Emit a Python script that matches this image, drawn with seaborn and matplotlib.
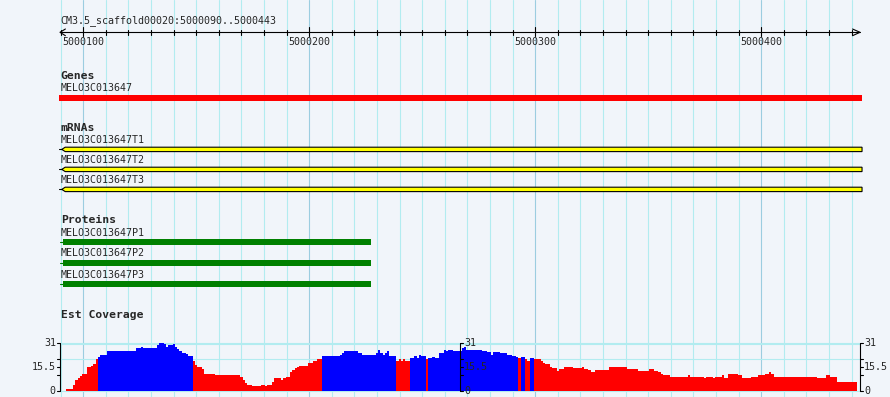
import numpy as np
import pandas as pd
import matplotlib
matplotlib.use("Agg")
import matplotlib.pyplot as plt
from matplotlib.patches import Polygon
import seaborn as sns

# Region shown
ref_name = "CM3.5_scaffold00020"
view_start, view_end = 5000090, 5000443

# Features (bp)
gene_names = ["MELO3C013647"]
gene_span = (5000089.3, 5000444.6)
mrna_names = ["MELO3C013647T1", "MELO3C013647T2", "MELO3C013647T3"]
mrna_span = (5000089.3, 5000444.6)
protein_names = ["MELO3C013647P1", "MELO3C013647P2", "MELO3C013647P3"]
protein_span = (5000091, 5000227.5)

# Est coverage as steps: first base of each step (offset from view_start) and depth
cov_offsets = [3, 6, 7, 8, 9, 10, 12, 14, 15, 16,
               17, 18, 21, 34, 36, 37, 43, 44, 46, 47, 48, 50, 51, 52, 53, 54, 56, 57,
               59, 60, 61, 63, 64, 69, 80, 81, 82, 83, 85, 89, 91, 92, 94, 95, 98, 99,
               100, 102, 103, 104, 105, 106, 110, 112, 114,
               116, 124, 125, 126, 132, 134, 140, 141, 142, 143, 144, 145, 146,
               149, 150, 151, 152, 153,
               155, 157, 158, 159, 160,
               162,
               163, 165, 166, 168, 170, 171, 172, 174, 178, 179, 180, 187, 189, 191,
               192, 195, 198, 200, 202,
               203, 204, 206, 207, 208,
               210, 213, 214, 215, 217, 218, 220, 221, 223, 227, 231, 232, 234, 235,
               237, 243, 251, 256, 261, 263, 265, 266, 267, 270, 278, 279, 285, 286,
               289, 290, 293, 294, 296, 300, 302, 306, 309, 312, 314, 315, 316, 335,
               339, 341, 344]
cov_depth = [1.3, 3.7, 6.9, 8.4, 9.3, 10.5, 15.3, 15.9, 17.2, 20.4,
             22.0, 23.0, 25.6, 27.3, 28.0, 27.3, 29.5, 31.0, 29.9, 28.4, 29.5, 29.9,
             28.4, 26.9, 25.6, 24.3, 23.7, 22.4,
             19.2, 16.6, 15.3, 14.0, 10.8, 10.1, 8.6, 6.9, 4.7, 3.9, 3.2, 3.9, 3.2,
             3.9, 5.6, 8.4, 7.1, 8.4, 9.0, 12.3, 13.6, 14.6, 15.5, 15.9, 17.9, 19.2, 20.4,
             22.4, 23.0, 24.3, 25.6, 24.3, 23.0, 24.3, 26.3, 24.3, 23.0, 24.3, 25.6, 22.4,
             19.2, 20.4, 19.2, 20.4, 19.2,
             21.1, 22.4, 21.1, 23.0, 22.4,
             20.4,
             21.1, 21.7, 21.1, 24.3, 26.3, 25.6, 26.3, 25.6, 27.3, 28.2, 26.0, 25.6,
             24.8, 23.0, 24.8, 24.1, 23.0, 22.6, 22.0,
             20.9, 21.7, 20.4, 19.2, 21.1,
             20.4, 19.2, 17.9, 17.2, 15.5, 14.4, 12.7, 14.0, 15.3, 14.6, 15.3, 14.0,
             13.3, 12.1, 13.3, 15.3, 14.0, 12.7, 14.0, 12.7, 12.1, 10.8, 10.1, 8.8,
             10.1, 8.8, 8.2, 8.8, 8.2, 8.8, 10.1, 8.2, 10.8, 10.1, 8.2, 8.8, 10.1,
             10.8, 12.1, 10.8, 8.8, 8.2, 10.1, 8.8, 5.6]
cov_end_offset = 353
# stretches drawn in blue (offsets, end exclusive)
blue_spans = [(17, 59), (116, 149), (155, 162), (163, 203), (204, 206), (208, 210)]
cov_max = 31

# expand steps to one value per base
seg_ends = cov_offsets[1:] + [cov_end_offset]
rows = []
for s, e, d in zip(cov_offsets, seg_ends, cov_depth):
    for off in range(s, e):
        blue = any(a <= off < b for a, b in blue_spans)
        rows.append({"pos": view_start + off, "depth": d, "kind": "blue" if blue else "red"})
cov = pd.DataFrame(rows)

# Layout (pixels)
W, H = 890, 397
panel_x0, panel_x1 = 60, 860
ppb = (panel_x1 - panel_x0) / (view_end - view_start + 1)
bp0 = view_start - 0.3
xlim = (bp0 - panel_x0 / ppb, bp0 + (W - panel_x0) / ppb)
bg = "#f1f5fa"
mono = "DejaVu Sans Mono"
fs = 7.2
fs_bold = 8.2

sns.set_style("white")
plt.rcParams["font.family"] = [mono, "DejaVu Sans"]

fig = plt.figure(figsize=(W / 100, H / 100), dpi=100, facecolor=bg)
ax = fig.add_axes([0, 0, 1, 1])
ax.set_xlim(*xlim)
ax.set_ylim(H, 0)
ax.set_facecolor(bg)
ax.axis("off")

# vertical grid every 10 bp
for p in range(view_start, view_end + 1, 10):
    col = "#9ccde0" if p % 100 == 0 else "#b2ecf0"
    ax.axvline(p, color=col, lw=0.8, zorder=0)
# horizontal grid of the coverage track
for yrow in [342.7, 344.4, 359.4, 391.2]:
    ax.plot([view_start - 0.3, view_end + 0.7], [yrow, yrow], color="#b2ecf0", lw=0.8, zorder=0)

# ruler
ax.text(bp0 + 0.3, 21, f"{ref_name}:{view_start}..{view_end}", fontsize=fs,
        va="center", ha="left", family=mono)
r_end = view_end + 0.7
ax.plot([bp0, r_end], [32.3, 32.3], color="black", lw=0.8)
ax.plot([bp0 + 2.4, bp0, bp0 + 2.4], [29, 32.3, 35.7], color="black", lw=0.8)
ax.plot([r_end - 3.3, r_end, r_end - 3.3], [29, 32.3, 35.7], color="black", lw=0.8)
for p in range(view_start, view_end + 1, 10):
    if p % 100 == 0:
        ax.plot([p, p], [27, 36], color="black", lw=0.8)
        ax.text(p, 42.3, str(p), fontsize=fs, ha="center", va="center", family=mono)
    else:
        ax.plot([p, p], [29.5, 35], color="black", lw=0.8)

# Genes
ax.text(bp0 + 0.3, 76, "Genes", fontsize=fs_bold, weight="bold", va="center", family=mono)
ax.text(bp0 + 0.3, 88, gene_names[0], fontsize=fs, va="center", family=mono)
ax.fill_between(gene_span, 95, 101, color="#ff0000", lw=0)

# mRNAs
ax.text(bp0 + 0.3, 127.7, "mRNAs", fontsize=fs_bold, weight="bold", va="center", family=mono)
for i, name in enumerate(mrna_names):
    yl = 140 + 20 * i
    yc = 149.4 + 20 * i
    ax.text(bp0 + 0.3, yl, name, fontsize=fs, va="center", family=mono)
    tip, body, end = mrna_span[0] + 1.2, mrna_span[0] + 2.7, mrna_span[1]
    ax.plot([mrna_span[0], tip], [yc, yc], color="black", lw=0.8)
    ax.add_patch(Polygon([(tip, yc), (body, yc - 2.2), (end, yc - 2.2), (end, yc + 2.2),
                          (body, yc + 2.2)], closed=True, facecolor="#ffff00",
                         edgecolor="black", lw=0.8))

# Proteins
ax.text(bp0 + 0.3, 220, "Proteins", fontsize=fs_bold, weight="bold", va="center", family=mono)
for i, name in enumerate(protein_names):
    yl = 232.5 + 21 * i
    yc = 242 + 21 * i
    ax.text(bp0 + 0.3, yl, name, fontsize=fs, va="center", family=mono)
    ax.plot([protein_span[0] - 1.5, protein_span[0]], [yc, yc], color="#008000", lw=0.8)
    ax.fill_between(protein_span, yc - 3.2, yc + 3.2, color="#008000", lw=0)

# Est Coverage
ax.text(bp0 + 0.3, 315, "Est Coverage", fontsize=fs_bold, weight="bold", va="center", family=mono)

y_top, y_bot = 342.7, 390.6
axc = fig.add_axes([0, (H - y_bot) / H, 1, (y_bot - y_top) / H])
axc.set_xlim(*xlim)
axc.set_ylim(0, cov_max)
axc.patch.set_alpha(0)
sns.histplot(data=cov, x="pos", weights="depth", hue="kind", discrete=True,
             hue_order=["red", "blue"], palette=["#ff0000", "#0000ff"],
             multiple="layer", alpha=1, linewidth=0, legend=False, ax=axc)
axc.set_xlim(*xlim)
axc.set_ylim(0, cov_max)
axc.axis("off")


def draw_scale(axx, xb, side):
    t = 3.2 / ppb * side
    axx.plot([xb, xb], [0, cov_max], color="black", lw=0.8, clip_on=False, zorder=5)
    for v in [0, cov_max / 3, cov_max / 2, 2 * cov_max / 3, cov_max]:
        axx.plot([xb, xb + t], [v, v], color="black", lw=0.8, clip_on=False, zorder=5)
    for v in [0, cov_max / 2, cov_max]:
        axx.text(xb + t * 1.3, v, f"{v:g}", fontsize=fs, family=mono, va="center",
                 ha="right" if side < 0 else "left", zorder=6, clip_on=False)


draw_scale(axc, bp0, -1)
draw_scale(axc, bp0 + 400 / ppb, 1)
draw_scale(axc, bp0 + 800 / ppb, 1)

fig.savefig("out.png", dpi=100, facecolor=bg)
